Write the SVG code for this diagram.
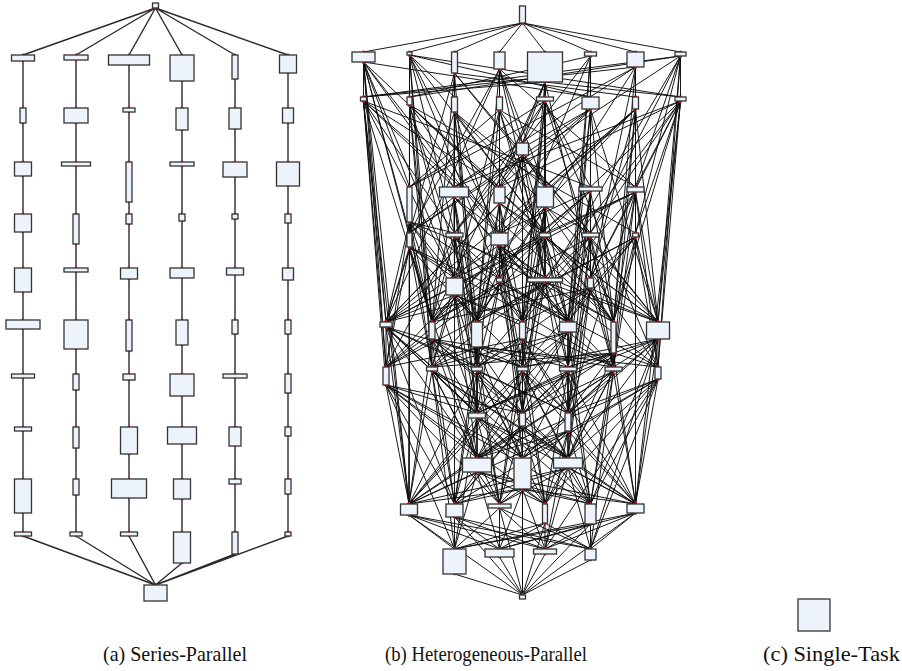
<svg xmlns="http://www.w3.org/2000/svg" width="902" height="671" viewBox="0 0 902 671">
<style>
.n{fill:#edf3fa;stroke:#333;stroke-width:1.3}
.sp{fill:none;stroke:#2a2a2a;stroke-width:1.4;marker-start:url(#dot);marker-mid:url(#dot);marker-end:url(#dot)}
.he{fill:none;stroke:#0d0d0d;stroke-width:0.95;marker-start:url(#dot);marker-mid:url(#dot);marker-end:url(#dot)}
.lbl{font-family:"Liberation Serif","DejaVu Serif",serif;font-size:21px;fill:#111}
</style>
<defs>
<marker id="dot" markerWidth="5" markerHeight="5" refX="2.5" refY="2.5" markerUnits="userSpaceOnUse"><circle cx="2.5" cy="2.5" r="1.4" fill="#d01818"/></marker>
</defs>
<rect width="902" height="671" fill="#fff"/>

<!-- (a) connectors -->
<g id="sp-edges">
<path class="sp" d="M155.5 8L23 55M155.5 8L76 55M155.5 8L129 55M155.5 8L182 55M155.5 8L235 55M155.5 8L288 55"/>
<path class="sp" d="M23 61V108M23 123V162M23 176V214M23 232V268M23 292V320M23 329V374M23 378V427M23 431V479M23 513V532"/>
<path class="sp" d="M76 60V108M76 123V162M76 166V214M76 244V268M76 272V320M76 349V374M76 390V427M76 448V479M76 495V532"/>
<path class="sp" d="M129 65V108M129 112V162M129 202V214M129 224V268M129 279V320M129 351V374M129 380V427M129 454V479M129 498V532"/>
<path class="sp" d="M182 81V108M182 130V162M182 166V214M182 221V268M182 278V320M182 345V374M182 396V427M182 444V479M182 499V532"/>
<path class="sp" d="M235 79V108M235 129V162M235 177V214M235 219V268M235 275V320M235 334V374M235 378V427M235 446V479M235 484V532"/>
<path class="sp" d="M288 73V108M288 123V162M288 186V214M288 223V268M288 280V320M288 334V374M288 393V427M288 436V479M288 494V532"/>
<path class="sp" d="M23 536L155.5 585M76 536L155.5 585M129 536L155.5 585M182 563L155.5 585M235 554L155.5 585M288 536L155.5 585"/>
</g>

<!-- (a) Series-Parallel nodes -->
<g id="sp-nodes">
<g id="sp_src"><rect class="n" x="152.5" y="3" width="6" height="5"/></g>
<g id="sp_c1_r1"><rect class="n" x="11.5" y="55" width="23" height="6"/></g>
<g id="sp_c1_r2"><rect class="n" x="20" y="108" width="6" height="15"/></g>
<g id="sp_c1_r3"><rect class="n" x="14.5" y="162" width="17" height="14"/></g>
<g id="sp_c1_r4"><rect class="n" x="14.5" y="214" width="17" height="18"/></g>
<g id="sp_c1_r5"><rect class="n" x="14.5" y="268" width="17" height="24"/></g>
<g id="sp_c1_r6"><rect class="n" x="6" y="320" width="34" height="9"/></g>
<g id="sp_c1_r7"><rect class="n" x="11.5" y="374" width="23" height="4"/></g>
<g id="sp_c1_r8"><rect class="n" x="14.5" y="427" width="17" height="4"/></g>
<g id="sp_c1_r9"><rect class="n" x="14.5" y="479" width="17" height="34"/></g>
<g id="sp_c1_r10"><rect class="n" x="14.5" y="532" width="17" height="4"/></g>
<g id="sp_c2_r1"><rect class="n" x="64" y="55" width="24" height="5"/></g>
<g id="sp_c2_r2"><rect class="n" x="64" y="108" width="24" height="15"/></g>
<g id="sp_c2_r3"><rect class="n" x="61.5" y="162" width="29" height="4"/></g>
<g id="sp_c2_r4"><rect class="n" x="73" y="214" width="6" height="30"/></g>
<g id="sp_c2_r5"><rect class="n" x="64" y="268" width="24" height="4"/></g>
<g id="sp_c2_r6"><rect class="n" x="64" y="320" width="24" height="29"/></g>
<g id="sp_c2_r7"><rect class="n" x="73" y="374" width="6" height="16"/></g>
<g id="sp_c2_r8"><rect class="n" x="73" y="427" width="6" height="21"/></g>
<g id="sp_c2_r9"><rect class="n" x="73" y="479" width="6" height="16"/></g>
<g id="sp_c2_r10"><rect class="n" x="70" y="532" width="12" height="4"/></g>
<g id="sp_c3_r1"><rect class="n" x="108.5" y="55" width="41" height="10"/></g>
<g id="sp_c3_r2"><rect class="n" x="123" y="108" width="12" height="4"/></g>
<g id="sp_c3_r3"><rect class="n" x="126" y="162" width="6" height="40"/></g>
<g id="sp_c3_r4"><rect class="n" x="126" y="214" width="6" height="10"/></g>
<g id="sp_c3_r5"><rect class="n" x="120.5" y="268" width="17" height="11"/></g>
<g id="sp_c3_r6"><rect class="n" x="126" y="320" width="6" height="31"/></g>
<g id="sp_c3_r7"><rect class="n" x="123" y="374" width="12" height="6"/></g>
<g id="sp_c3_r8"><rect class="n" x="120.5" y="427" width="17" height="27"/></g>
<g id="sp_c3_r9"><rect class="n" x="111.5" y="479" width="35" height="19"/></g>
<g id="sp_c3_r10"><rect class="n" x="120.5" y="532" width="17" height="4"/></g>
<g id="sp_c4_r1"><rect class="n" x="170" y="55" width="24" height="26"/></g>
<g id="sp_c4_r2"><rect class="n" x="176" y="108" width="12" height="22"/></g>
<g id="sp_c4_r3"><rect class="n" x="170" y="162" width="24" height="4"/></g>
<g id="sp_c4_r4"><rect class="n" x="179" y="214" width="6" height="7"/></g>
<g id="sp_c4_r5"><rect class="n" x="170" y="268" width="24" height="10"/></g>
<g id="sp_c4_r6"><rect class="n" x="176" y="320" width="12" height="25"/></g>
<g id="sp_c4_r7"><rect class="n" x="170" y="374" width="24" height="22"/></g>
<g id="sp_c4_r8"><rect class="n" x="167.5" y="427" width="29" height="17"/></g>
<g id="sp_c4_r9"><rect class="n" x="173.5" y="479" width="17" height="20"/></g>
<g id="sp_c4_r10"><rect class="n" x="173.5" y="532" width="17" height="31"/></g>
<g id="sp_c5_r1"><rect class="n" x="232" y="55" width="6" height="24"/></g>
<g id="sp_c5_r2"><rect class="n" x="229" y="108" width="12" height="21"/></g>
<g id="sp_c5_r3"><rect class="n" x="223" y="162" width="24" height="15"/></g>
<g id="sp_c5_r4"><rect class="n" x="232" y="214" width="6" height="5"/></g>
<g id="sp_c5_r5"><rect class="n" x="226.5" y="268" width="17" height="7"/></g>
<g id="sp_c5_r6"><rect class="n" x="232" y="320" width="6" height="14"/></g>
<g id="sp_c5_r7"><rect class="n" x="223" y="374" width="24" height="4"/></g>
<g id="sp_c5_r8"><rect class="n" x="229" y="427" width="12" height="19"/></g>
<g id="sp_c5_r9"><rect class="n" x="229" y="479" width="12" height="5"/></g>
<g id="sp_c5_r10"><rect class="n" x="232" y="532" width="6" height="22"/></g>
<g id="sp_c6_r1"><rect class="n" x="279.5" y="55" width="17" height="18"/></g>
<g id="sp_c6_r2"><rect class="n" x="282.5" y="108" width="11" height="15"/></g>
<g id="sp_c6_r3"><rect class="n" x="276.5" y="162" width="23" height="24"/></g>
<g id="sp_c6_r4"><rect class="n" x="285" y="214" width="6" height="9"/></g>
<g id="sp_c6_r5"><rect class="n" x="282.5" y="268" width="11" height="12"/></g>
<g id="sp_c6_r6"><rect class="n" x="285" y="320" width="6" height="14"/></g>
<g id="sp_c6_r7"><rect class="n" x="285" y="374" width="6" height="19"/></g>
<g id="sp_c6_r8"><rect class="n" x="285" y="427" width="6" height="9"/></g>
<g id="sp_c6_r9"><rect class="n" x="285" y="479" width="6" height="15"/></g>
<g id="sp_c6_r10"><rect class="n" x="285" y="532" width="6" height="4"/></g>
<g id="sp_sink"><rect class="n" x="144" y="585" width="23" height="16"/></g>
</g>

<!-- (b) connectors -->
<g id="hp-edges">
<path class="he" d="M522.5 23L363.5 52M522.5 23L409.5 52M522.5 23L454.5 52M522.5 23L499.5 52M522.5 23L545 52M522.5 23L590.5 52M522.5 23L635.5 52M522.5 23L680.5 52"/>
<path class="he" d="M363.5 62L363.5 97M363.5 62L409.5 187M363.5 62L409.5 233M363.5 62L386 322M363.5 62L386 367M363.5 62L432 322M363.5 62L409 504M363.5 62L454.5 278M363.5 62L454 187M363.5 62L590.5 97M363.5 62L568 322M363.5 62L545 233"/>
<path class="he" d="M409.5 55L409.5 97M409.5 55L409.5 187M409.5 55L454.5 97M409.5 55L454.5 233M409.5 55L432 322M409.5 55L499.5 278M409.5 55L432 367M409.5 55L499.5 233M409.5 55L590.5 97M409.5 55L680.5 97M409.5 55L613.5 322"/>
<path class="he" d="M454.5 73L454.5 97M454.5 73L454 187M454.5 73L432 322M454.5 73L635.5 97M454.5 73L409.5 233M454.5 73L454.5 278M454.5 73L477 367M454.5 73L658 322M454.5 73L590.5 233"/>
<path class="he" d="M499.5 69L499.5 97M499.5 69L499.5 187M499.5 69L522.5 143M499.5 69L545 187M499.5 69L409.5 233M499.5 69L477 322M499.5 69L545 278M499.5 69L635.5 187M499.5 69L386 322"/>
<path class="he" d="M545 82L545 97M545 82L522.5 143M545 82L545 187M545 82L499.5 187M545 82L545 233M545 82L545 278M545 82L522.5 322M545 82L363.5 97M545 82L680.5 97M545 82L432 322M545 82L613.5 367"/>
<path class="he" d="M590.5 56L590.5 97M590.5 56L590.5 187M590.5 56L590.5 233M590.5 56L409.5 97M590.5 56L590.5 278M590.5 56L568 322M590.5 56L568 367M590.5 56L454.5 233M590.5 56L477 322"/>
<path class="he" d="M635.5 67L635.5 97M635.5 67L635.5 187M635.5 67L635.5 233M635.5 67L363.5 97M635.5 67L454 187M635.5 67L613.5 322M635.5 67L590.5 278M635.5 67L499.5 278M635.5 67L409.5 187"/>
<path class="he" d="M680.5 56L680.5 97M680.5 56L658 322M680.5 56L635.5 233M680.5 56L635.5 187M680.5 56L409.5 97M680.5 56L658 367M680.5 56L590.5 233M680.5 56L363.5 97M680.5 56L409.5 233M680.5 56L522.5 322"/>
<path class="he" d="M363.5 101L386 322M363.5 101L386 367M363.5 101L454 187M363.5 101L454.5 233M363.5 101L409 504M363.5 101L454.5 278M363.5 101L499.5 187M363.5 101L432 322M363.5 101L590.5 187M363.5 101L613.5 322M363.5 101L386 385"/>
<path class="he" d="M409.5 105L409.5 187M409.5 105L409.5 233M409.5 105L432 322M409.5 105L454.5 278M409.5 105L499.5 187M409.5 105L499.5 233M409.5 105L432 367M409.5 105L477 322M409.5 105L409 504M409.5 105L590.5 278M409.5 105L635.5 233"/>
<path class="he" d="M454.5 112L454 187M454.5 112L454.5 233M454.5 112L454.5 278M454.5 112L477 322M454.5 112L545 187M454.5 112L545 233M454.5 112L477 367M454.5 112L522.5 322M454.5 112L658 322M454.5 112L386 322"/>
<path class="he" d="M499.5 110L499.5 187M499.5 110L499.5 233M499.5 110L499.5 278M499.5 110L477 322M499.5 110L409.5 187M499.5 110L568 322M499.5 110L522.5 143M499.5 110L545 278M499.5 110L635.5 187M499.5 110L432 367"/>
<path class="he" d="M545 101L522.5 143M545 101L545 187M545 101L590.5 187M545 101L545 233M545 101L545 278M545 101L522.5 322M545 101L454.5 233M545 101L613.5 322M545 101L522.5 367M545 101L409.5 187M545 101L658 367"/>
<path class="he" d="M590.5 109L590.5 187M590.5 109L590.5 233M590.5 109L590.5 278M590.5 109L454 187M590.5 109L568 322M590.5 109L613.5 322M590.5 109L409.5 233M590.5 109L568 367M590.5 109L499.5 187M590.5 109L386 322M590.5 109L658 322"/>
<path class="he" d="M635.5 109L635.5 187M635.5 109L635.5 233M635.5 109L613.5 322M635.5 109L658 322M635.5 109L590.5 278M635.5 109L545 187M635.5 109L499.5 233M635.5 109L613.5 367M635.5 109L454.5 278M635.5 109L386 322M635.5 109L432 322"/>
<path class="he" d="M680.5 101L658 322M680.5 101L635.5 187M680.5 101L635.5 233M680.5 101L658 367M680.5 101L590.5 187M680.5 101L590.5 233M680.5 101L590.5 278M680.5 101L613.5 322M680.5 101L499.5 187M680.5 101L635.5 504M680.5 101L454 187M680.5 101L545 278"/>
<path class="he" d="M522.5 155L499.5 187M522.5 155L545 187M522.5 155L499.5 233M522.5 155L499.5 278M522.5 155L522.5 322M522.5 155L545 233M522.5 155L522.5 367M522.5 155L545 278M522.5 155L477 322M522.5 155L590.5 233M522.5 155L454.5 233"/>
<path class="he" d="M409.5 222L386 322M409.5 222L432 322M409.5 222L386 367M409.5 222L432 367M409.5 222L454.5 278M409.5 222L454.5 233M409.5 222L477 413M409.5 222L409 504M409.5 222L477 322M409.5 222L568 322M409.5 222L658 322"/>
<path class="he" d="M454 197L454.5 233M454 197L454.5 278M454 197L432 322M454 197L477 322M454 197L409.5 233M454 197L477 367M454 197L477 413M454 197L499.5 233M454 197L568 322M454 197L613.5 367"/>
<path class="he" d="M499.5 203L499.5 233M499.5 203L499.5 278M499.5 203L477 322M499.5 203L522.5 322M499.5 203L477 367M499.5 203L522.5 413M499.5 203L545 233M499.5 203L613.5 322M499.5 203L386 322M499.5 203L658 322"/>
<path class="he" d="M545 207L545 233M545 207L545 278M545 207L522.5 322M545 207L568 322M545 207L522.5 367M545 207L522.5 413M545 207L590.5 233M545 207L477 322M545 207L432 322M545 207L658 367"/>
<path class="he" d="M590.5 191L590.5 233M590.5 191L590.5 278M590.5 191L568 322M590.5 191L613.5 322M590.5 191L568 367M590.5 191L568 413M590.5 191L499.5 233M590.5 191L499.5 278M590.5 191L432 322M590.5 191L386 367"/>
<path class="he" d="M635.5 192L635.5 233M635.5 192L658 322M635.5 192L613.5 322M635.5 192L613.5 367M635.5 192L658 367M635.5 192L590.5 278M635.5 192L545 233M635.5 192L568 413M635.5 192L522.5 322M635.5 192L454.5 278M635.5 192L386 322"/>
<path class="he" d="M409.5 247L386 322M409.5 247L432 322M409.5 247L386 367M409.5 247L454.5 278M409.5 247L432 367M409.5 247L477 322M409.5 247L477 458M409.5 247L409 504M409.5 247L568 322M409.5 247L613.5 367"/>
<path class="he" d="M454.5 237L454.5 278M454.5 237L432 322M454.5 237L477 322M454.5 237L477 367M454.5 237L499.5 278M454.5 237L522.5 322M454.5 237L477 413M454.5 237L454.5 504M454.5 237L613.5 322M454.5 237L386 367"/>
<path class="he" d="M499.5 245L499.5 278M499.5 245L477 322M499.5 245L522.5 322M499.5 245L522.5 367M499.5 245L545 278M499.5 245L568 322M499.5 245L522.5 413M499.5 245L522.5 458M499.5 245L658 367M499.5 245L386 322"/>
<path class="he" d="M545 237L545 278M545 237L522.5 322M545 237L568 322M545 237L568 367M545 237L590.5 278M545 237L613.5 322M545 237L522.5 413M545 237L386 322M545 237L432 367M545 237L658 322"/>
<path class="he" d="M590.5 237L590.5 278M590.5 237L568 322M590.5 237L613.5 322M590.5 237L613.5 367M590.5 237L545 278M590.5 237L658 322M590.5 237L568 413M590.5 237L568 458M590.5 237L432 322M590.5 237L477 367"/>
<path class="he" d="M635.5 237L658 322M635.5 237L613.5 322M635.5 237L658 367M635.5 237L590.5 278M635.5 237L613.5 367M635.5 237L568 322M635.5 237L635.5 504M635.5 237L477 322M635.5 237L386 367M635.5 237L522.5 367"/>
<path class="he" d="M454.5 295L386 322M454.5 295L432 322M454.5 295L477 322M454.5 295L432 367M454.5 295L477 367M454.5 295L477 413M454.5 295L522.5 322M454.5 295L477 458M454.5 295L386 367M454.5 295L613.5 367M454.5 295L568 413"/>
<path class="he" d="M499.5 282L477 322M499.5 282L522.5 322M499.5 282L477 367M499.5 282L522.5 367M499.5 282L522.5 413M499.5 282L568 322M499.5 282L432 322M499.5 282L477 413M499.5 282L658 367M499.5 282L386 367"/>
<path class="he" d="M545 282L522.5 322M545 282L568 322M545 282L522.5 367M545 282L568 367M545 282L522.5 413M545 282L568 413M545 282L477 322M545 282L613.5 322M545 282L658 322M545 282L432 367M545 282L386 322"/>
<path class="he" d="M590.5 288L568 322M590.5 288L613.5 322M590.5 288L658 322M590.5 288L613.5 367M590.5 288L568 367M590.5 288L568 413M590.5 288L522.5 322M590.5 288L568 458M590.5 288L432 322M590.5 288L477 367"/>
<path class="he" d="M386 327L386 367M386 327L432 367M386 327L477 413M386 327L477 458M386 327L409 504M386 327L454.5 504M386 327L477 367M386 327L522.5 458M386 327L522.5 367M386 327L568 413M386 327L590.5 504"/>
<path class="he" d="M432 339L432 367M432 339L477 367M432 339L386 367M432 339L477 413M432 339L477 458M432 339L409 504M432 339L454.5 504M432 339L522.5 367M432 339L522.5 413M432 339L613.5 367M432 339L568 458"/>
<path class="he" d="M477 347L477 367M477 347L522.5 367M477 347L477 413M477 347L522.5 413M477 347L477 458M477 347L522.5 458M477 347L432 367M477 347L454.5 504M477 347L499.5 504M477 347L568 367M477 347L658 367"/>
<path class="he" d="M522.5 339L522.5 367M522.5 339L477 367M522.5 339L568 367M522.5 339L522.5 413M522.5 339L477 413M522.5 339L568 413M522.5 339L522.5 458M522.5 339L545 504M522.5 339L499.5 504M522.5 339L386 367M522.5 339L635.5 504"/>
<path class="he" d="M568 332L568 367M568 332L522.5 367M568 332L613.5 367M568 332L568 413M568 332L522.5 413M568 332L568 458M568 332L590.5 504M568 332L477 458M568 332L477 367M568 332L432 367M568 332L409 504"/>
<path class="he" d="M613.5 353L613.5 367M613.5 353L568 367M613.5 353L658 367M613.5 353L568 413M613.5 353L568 458M613.5 353L590.5 504M613.5 353L635.5 504M613.5 353L522.5 413M613.5 353L522.5 367M613.5 353L477 413M613.5 353L432 367"/>
<path class="he" d="M658 339L658 367M658 339L613.5 367M658 339L635.5 504M658 339L590.5 504M658 339L568 458M658 339L568 413M658 339L568 367M658 339L522.5 458M658 339L590.5 549M658 339L477 413M658 339L522.5 367"/>
<path class="he" d="M386 385L409 504M386 385L454.5 504M386 385L477 458M386 385L477 413M386 385L454.5 549M386 385L499.5 504M386 385L522.5 458M386 385L522.5 413M386 385L590.5 504M386 385L545 504"/>
<path class="he" d="M432 371L477 413M432 371L477 458M432 371L409 504M432 371L454.5 504M432 371L522.5 413M432 371L499.5 504M432 371L522.5 458M432 371L454.5 549M432 371L568 458M432 371L635.5 504"/>
<path class="he" d="M477 371L477 413M477 371L522.5 413M477 371L477 458M477 371L522.5 458M477 371L454.5 504M477 371L499.5 504M477 371L568 413M477 371L545 504M477 371L568 458M477 371L409 504"/>
<path class="he" d="M522.5 371L522.5 413M522.5 371L477 413M522.5 371L568 413M522.5 371L522.5 458M522.5 371L477 458M522.5 371L568 458M522.5 371L499.5 504M522.5 371L545 504M522.5 371L590.5 504M522.5 371L409 504M522.5 371L635.5 504"/>
<path class="he" d="M568 371L568 413M568 371L522.5 413M568 371L568 458M568 371L522.5 458M568 371L545 504M568 371L590.5 504M568 371L635.5 504M568 371L477 413M568 371L477 458M568 371L454.5 504"/>
<path class="he" d="M613.5 371L568 413M613.5 371L568 458M613.5 371L590.5 504M613.5 371L635.5 504M613.5 371L522.5 413M613.5 371L522.5 458M613.5 371L545 504M613.5 371L590.5 549M613.5 371L477 458M613.5 371L409 504"/>
<path class="he" d="M658 379L635.5 504M658 379L590.5 504M658 379L568 458M658 379L568 413M658 379L590.5 549M658 379L522.5 458M658 379L545 504M658 379L545 549M658 379L477 458M658 379L454.5 504"/>
<path class="he" d="M477 418L477 458M477 418L522.5 458M477 418L409 504M477 418L454.5 504M477 418L499.5 504M477 418L568 458M477 418L545 504M477 418L454.5 549M477 418L635.5 504"/>
<path class="he" d="M522.5 426L522.5 458M522.5 426L477 458M522.5 426L568 458M522.5 426L499.5 504M522.5 426L545 504M522.5 426L454.5 504M522.5 426L590.5 504M522.5 426L522.5 595M522.5 426L409 504M522.5 426L635.5 504"/>
<path class="he" d="M568 431L568 458M568 431L522.5 458M568 431L590.5 504M568 431L545 504M568 431L635.5 504M568 431L499.5 504M568 431L477 458M568 431L545 549M568 431L409 504"/>
<path class="he" d="M477 472L409 504M477 472L454.5 504M477 472L499.5 504M477 472L545 504M477 472L590.5 504M477 472L454.5 549M477 472L499.5 549M477 472L635.5 504"/>
<path class="he" d="M522.5 489L499.5 504M522.5 489L545 504M522.5 489L454.5 504M522.5 489L590.5 504M522.5 489L499.5 549M522.5 489L545 549M522.5 489L409 504M522.5 489L522.5 595M522.5 489L635.5 504"/>
<path class="he" d="M568 468L545 504M568 468L590.5 504M568 468L635.5 504M568 468L499.5 504M568 468L545 549M568 468L590.5 549M568 468L409 504M568 468L454.5 504"/>
<path class="he" d="M409 515L454.5 549M409 515L499.5 549M409 515L545 549M409 515L522.5 595M409 515L590.5 549"/>
<path class="he" d="M454.5 517L454.5 549M454.5 517L499.5 549M454.5 517L545 549M454.5 517L590.5 549M454.5 517L522.5 595"/>
<path class="he" d="M499.5 508L454.5 549M499.5 508L499.5 549M499.5 508L545 549M499.5 508L590.5 549M499.5 508L522.5 595"/>
<path class="he" d="M545 523L499.5 549M545 523L545 549M545 523L590.5 549M545 523L454.5 549M545 523L522.5 595"/>
<path class="he" d="M590.5 524L545 549M590.5 524L590.5 549M590.5 524L499.5 549M590.5 524L454.5 549M590.5 524L522.5 595"/>
<path class="he" d="M635.5 513L590.5 549M635.5 513L545 549M635.5 513L499.5 549M635.5 513L454.5 549M635.5 513L522.5 595"/>
<path class="he" d="M454.5 574L522.5 595M499.5 557L522.5 595M545 554L522.5 595M590.5 560L522.5 595"/>
</g>

<!-- (b) Heterogeneous-Parallel nodes -->
<g id="hp-nodes">
<g id="hp_S"><rect class="n" x="519.5" y="6" width="6" height="17"/></g>
<g id="hp_a1"><rect class="n" x="352" y="52" width="23" height="10"/></g>
<g id="hp_a2"><rect class="n" x="407" y="52" width="5" height="3"/></g>
<g id="hp_a3"><rect class="n" x="451.5" y="52" width="6" height="21"/></g>
<g id="hp_a4"><rect class="n" x="494" y="52" width="11" height="17"/></g>
<g id="hp_a5"><rect class="n" x="527.5" y="52" width="35" height="30"/></g>
<g id="hp_a6"><rect class="n" x="584.5" y="52" width="12" height="4"/></g>
<g id="hp_a7"><rect class="n" x="627" y="52" width="17" height="15"/></g>
<g id="hp_a8"><rect class="n" x="675" y="52" width="11" height="4"/></g>
<g id="hp_b1"><rect class="n" x="360.5" y="97" width="6" height="4"/></g>
<g id="hp_b2"><rect class="n" x="407" y="97" width="5" height="8"/></g>
<g id="hp_b3"><rect class="n" x="451.5" y="97" width="6" height="15"/></g>
<g id="hp_b4"><rect class="n" x="496.5" y="97" width="6" height="13"/></g>
<g id="hp_b5"><rect class="n" x="536.5" y="97" width="17" height="4"/></g>
<g id="hp_b6"><rect class="n" x="582" y="97" width="17" height="12"/></g>
<g id="hp_b7"><rect class="n" x="632.5" y="97" width="6" height="12"/></g>
<g id="hp_b8"><rect class="n" x="675" y="97" width="11" height="4"/></g>
<g id="hp_c0"><rect class="n" x="516.5" y="143" width="12" height="12"/></g>
<g id="hp_d2"><rect class="n" x="407" y="187" width="5" height="35"/></g>
<g id="hp_d3"><rect class="n" x="439.5" y="187" width="29" height="10"/></g>
<g id="hp_d4"><rect class="n" x="494" y="187" width="11" height="16"/></g>
<g id="hp_d5"><rect class="n" x="536.5" y="187" width="17" height="20"/></g>
<g id="hp_d6"><rect class="n" x="579" y="187" width="23" height="4"/></g>
<g id="hp_d7"><rect class="n" x="627" y="187" width="17" height="5"/></g>
<g id="hp_e2"><rect class="n" x="407" y="233" width="5" height="14"/></g>
<g id="hp_e3"><rect class="n" x="446" y="233" width="17" height="4"/></g>
<g id="hp_e4"><rect class="n" x="491" y="233" width="17" height="12"/></g>
<g id="hp_e5"><rect class="n" x="539.5" y="233" width="11" height="4"/></g>
<g id="hp_e6"><rect class="n" x="582" y="233" width="17" height="4"/></g>
<g id="hp_e7"><rect class="n" x="632.5" y="233" width="6" height="4"/></g>
<g id="hp_f3"><rect class="n" x="446" y="278" width="17" height="17"/></g>
<g id="hp_f4"><rect class="n" x="496.5" y="278" width="6" height="4"/></g>
<g id="hp_f5"><rect class="n" x="527.5" y="278" width="35" height="4"/></g>
<g id="hp_f6"><rect class="n" x="587.5" y="278" width="6" height="10"/></g>
<g id="hp_g1"><rect class="n" x="380" y="322" width="12" height="5"/></g>
<g id="hp_g2"><rect class="n" x="429" y="322" width="6" height="17"/></g>
<g id="hp_g3"><rect class="n" x="471.5" y="322" width="11" height="25"/></g>
<g id="hp_g4"><rect class="n" x="519.5" y="322" width="6" height="17"/></g>
<g id="hp_g5"><rect class="n" x="559.5" y="322" width="17" height="10"/></g>
<g id="hp_g6"><rect class="n" x="611" y="322" width="5" height="31"/></g>
<g id="hp_g7"><rect class="n" x="646.5" y="322" width="23" height="17"/></g>
<g id="hp_h1"><rect class="n" x="383" y="367" width="6" height="18"/></g>
<g id="hp_h2"><rect class="n" x="426.5" y="367" width="11" height="4"/></g>
<g id="hp_h3"><rect class="n" x="471.5" y="367" width="11" height="4"/></g>
<g id="hp_h4"><rect class="n" x="517" y="367" width="11" height="4"/></g>
<g id="hp_h5"><rect class="n" x="559.5" y="367" width="17" height="4"/></g>
<g id="hp_h6"><rect class="n" x="605" y="367" width="17" height="4"/></g>
<g id="hp_h7"><rect class="n" x="655" y="367" width="6" height="12"/></g>
<g id="hp_i3"><rect class="n" x="468.5" y="413" width="17" height="5"/></g>
<g id="hp_i4"><rect class="n" x="519.5" y="413" width="6" height="13"/></g>
<g id="hp_i5"><rect class="n" x="565" y="413" width="6" height="18"/></g>
<g id="hp_j3"><rect class="n" x="462.5" y="458" width="29" height="14"/></g>
<g id="hp_j4"><rect class="n" x="514" y="458" width="17" height="31"/></g>
<g id="hp_j5"><rect class="n" x="553.5" y="458" width="29" height="10"/></g>
<g id="hp_k1"><rect class="n" x="400.5" y="504" width="17" height="11"/></g>
<g id="hp_k2"><rect class="n" x="446" y="504" width="17" height="13"/></g>
<g id="hp_k3"><rect class="n" x="488" y="504" width="23" height="4"/></g>
<g id="hp_k4"><rect class="n" x="542.5" y="504" width="5" height="19"/></g>
<g id="hp_k5"><rect class="n" x="585" y="504" width="11" height="20"/></g>
<g id="hp_k6"><rect class="n" x="627" y="504" width="17" height="9"/></g>
<g id="hp_l1"><rect class="n" x="443" y="549" width="23" height="25"/></g>
<g id="hp_l2"><rect class="n" x="485" y="549" width="29" height="8"/></g>
<g id="hp_l3"><rect class="n" x="533.5" y="549" width="23" height="5"/></g>
<g id="hp_l4"><rect class="n" x="585" y="549" width="11" height="11"/></g>
<g id="hp_T"><rect class="n" x="519.5" y="595" width="6" height="4"/></g>
</g>

<!-- (c) Single-Task -->
<g id="st_node"><rect class="n" x="798" y="599" width="32" height="32"/></g>

<g id="labels">
<text class="lbl" x="103" y="661" textLength="144" lengthAdjust="spacingAndGlyphs">(a) Series-Parallel</text>
<text class="lbl" x="385" y="661" textLength="202" lengthAdjust="spacingAndGlyphs">(b) Heterogeneous-Parallel</text>
<text class="lbl" x="763" y="661" textLength="137" lengthAdjust="spacingAndGlyphs">(c) Single-Task</text>
</g>
</svg>
